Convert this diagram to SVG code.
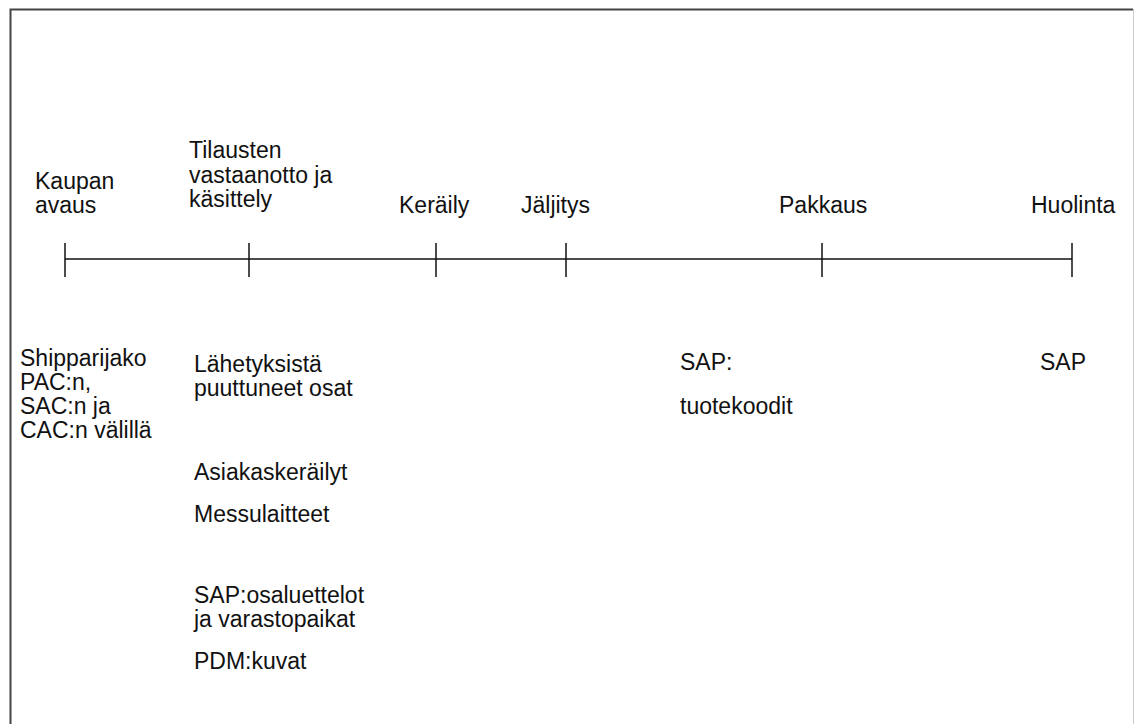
<svg xmlns="http://www.w3.org/2000/svg" width="1135" height="724" viewBox="0 0 1135 724">
<style>
text{font-family:"Liberation Sans",Arial,sans-serif;font-size:23px;fill:#111}
.ln{stroke:#111;stroke-width:1.5;fill:none}
</style>
<rect x="0" y="0" width="1135" height="724" fill="#fff"/>
<g id="frame">
<path d="M10.5,724 V9.5 H1133" stroke="#444" stroke-width="2" fill="none"/>
<line x1="1133.5" y1="9" x2="1133.5" y2="724" stroke="#ccc" stroke-width="1"/>
</g>
<g id="connectors">
<line class="ln" x1="65" y1="259" x2="1072" y2="259"/>
<line class="ln" x1="65" y1="243" x2="65" y2="277"/>
<line class="ln" x1="249" y1="243" x2="249" y2="277"/>
<line class="ln" x1="436" y1="243" x2="436" y2="277"/>
<line class="ln" x1="566" y1="243" x2="566" y2="277"/>
<line class="ln" x1="822" y1="243" x2="822" y2="277"/>
<line class="ln" x1="1072" y1="243" x2="1072" y2="277"/>
</g>
<g id="kaupan"><text x="35" y="189">Kaupan</text><text x="35" y="213">avaus</text></g>
<g id="tilausten"><text x="189" y="158">Tilausten</text><text x="189" y="183">vastaanotto ja</text><text x="189" y="207">käsittely</text></g>
<g id="keraily"><text x="399" y="213">Keräily</text></g>
<g id="jaljitys"><text x="521" y="213">Jäljitys</text></g>
<g id="pakkaus"><text x="779" y="213">Pakkaus</text></g>
<g id="huolinta"><text x="1031" y="213">Huolinta</text></g>
<g id="shipparijako"><text x="20" y="366">Shipparijako</text><text x="20" y="390">PAC:n,</text><text x="20" y="414">SAC:n ja</text><text x="20" y="438">CAC:n välillä</text></g>
<g id="lahetyksista"><text x="194" y="372">Lähetyksistä</text><text x="194" y="396">puuttuneet osat</text></g>
<g id="asiakas"><text x="194" y="480">Asiakaskeräilyt</text></g>
<g id="messu"><text x="194" y="522">Messulaitteet</text></g>
<g id="sapos"><text x="194" y="603">SAP:osaluettelot</text><text x="194" y="627">ja varastopaikat</text></g>
<g id="pdm"><text x="194" y="669">PDM:kuvat</text></g>
<g id="saptuote"><text x="680" y="370">SAP:</text><text x="680" y="414">tuotekoodit</text></g>
<g id="sap"><text x="1040" y="370">SAP</text></g>
</svg>
